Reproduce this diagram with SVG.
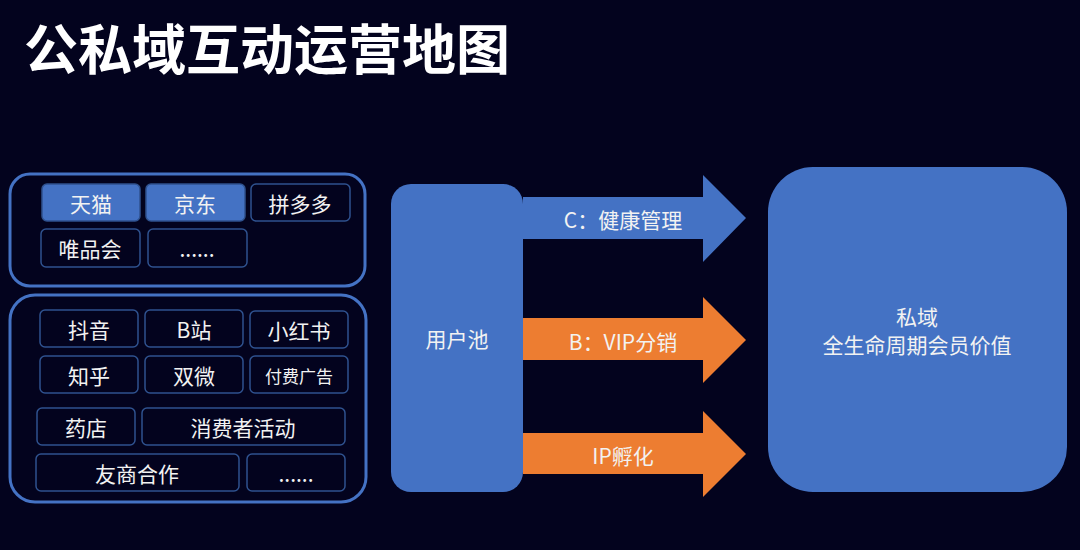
<svg xmlns="http://www.w3.org/2000/svg" width="1080" height="550" viewBox="0 0 1080 550">
<style>
text{font-family:"Noto Sans CJK SC","Noto Sans",sans-serif;fill:#f2f2f2;text-anchor:middle;dominant-baseline:central}
.title{font-size:54px;font-weight:700;fill:#ffffff;text-anchor:start;dominant-baseline:alphabetic}
.grp{fill:none;stroke:#4472c4;stroke-width:3}
.tag{fill:#03031e;stroke:#2f528f;stroke-width:1.5}
.tagf{fill:#4472c4;stroke:#2f528f;stroke-width:1.5}
.t{font-size:21px}
.blue{fill:#4472c4}
.orange{fill:#ed7d31}
</style>
<rect width="1080" height="550" fill="#03031e"/>
<text class="title" x="24" y="70">公私域互动运营地图</text>

<g id="online">
<rect class="grp" x="10" y="174" width="355" height="112" rx="20"/>
<rect class="tagf" x="42" y="184" width="98" height="37" rx="5"/><text class="t" x="91" y="203">天猫</text>
<rect class="tagf" x="146" y="184" width="99" height="37" rx="5"/><text class="t" x="195" y="203">京东</text>
<rect class="tag" x="251" y="184" width="99" height="37" rx="5"/><text class="t" x="300" y="203">拼多多</text>
<rect class="tag" x="41" y="229" width="99" height="38" rx="5"/><text class="t" x="90" y="248">唯品会</text>
<rect class="tag" x="148" y="229" width="99" height="38" rx="5"/><text class="t" x="197" y="248">......</text>
</g>

<g id="channels">
<rect class="grp" x="10" y="295" width="356" height="207" rx="25"/>
<rect class="tag" x="40" y="310" width="98" height="37" rx="5"/><text class="t" x="89" y="329">抖音</text>
<rect class="tag" x="145" y="310" width="98" height="37" rx="5"/><text class="t" x="194" y="329">B站</text>
<rect class="tag" x="250" y="311" width="98" height="37" rx="5"/><text class="t" x="299" y="330">小红书</text>
<rect class="tag" x="40" y="356" width="98" height="37" rx="5"/><text class="t" x="89" y="375">知乎</text>
<rect class="tag" x="145" y="356" width="98" height="37" rx="5"/><text class="t" x="194" y="375">双微</text>
<rect class="tag" x="250" y="356" width="98" height="37" rx="5"/><text x="299" y="375" style="font-size:17px">付费广告</text>
<rect class="tag" x="37" y="408" width="98" height="37" rx="5"/><text class="t" x="86" y="427">药店</text>
<rect class="tag" x="142" y="408" width="203" height="37" rx="5"/><text class="t" x="243" y="427">消费者活动</text>
<rect class="tag" x="36" y="454" width="203" height="37" rx="5"/><text class="t" x="137" y="473">友商合作</text>
<rect class="tag" x="247" y="454" width="98" height="37" rx="5"/><text class="t" x="296" y="473">......</text>
</g>

<g id="pool">
<rect class="blue" x="391" y="184" width="132" height="308" rx="20"/>
<text class="t" x="457" y="338">用户池</text>
</g>

<g id="connectors">
<polygon class="blue" points="523,197 703,197 703,175 746,218 703,262 703,239 523,239"/>
<text class="t" x="623" y="219">C：健康管理</text>
<polygon class="orange" points="523,318 703,318 703,297 746,340 703,383 703,360 523,360"/>
<text class="t" x="623" y="341">B：VIP分销</text>
<polygon class="orange" points="523,433 703,433 703,411 746,454 703,497 703,474 523,474"/>
<text class="t" x="623" y="455">IP孵化</text>
</g>

<g id="private">
<rect class="blue" x="768" y="167" width="299" height="325" rx="45"/>
<text class="t" x="917" y="316">私域</text>
<text class="t" x="917" y="344">全生命周期会员价值</text>
</g>
</svg>
